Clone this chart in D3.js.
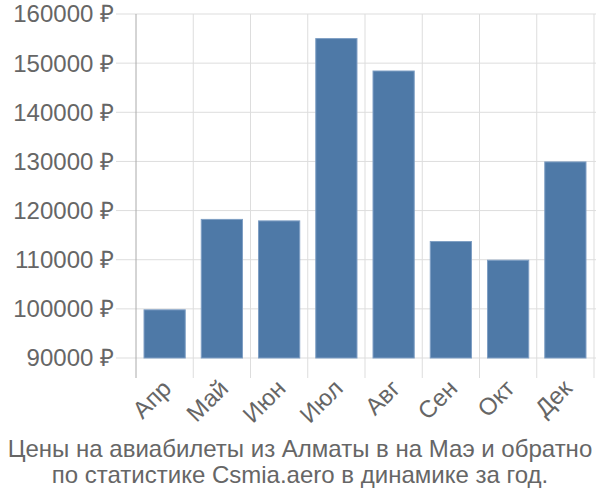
<!DOCTYPE html>
<html><head><meta charset="utf-8">
<script src="https://cdn.jsdelivr.net/npm/d3@7/dist/d3.min.js"></script>
<style>body{margin:0;background:#fff}svg{display:block}</style>
</head><body>
<script>
const categories = ["Апр","Май","Июн","Июл","Авг","Сен","Окт","Дек"];
const prices = [99800, 118200, 117900, 155000, 148400, 113700, 109900, 129900];
const yTicks = [90000,100000,110000,120000,130000,140000,150000,160000];
const titleLines = ["Цены на авиабилеты из Алматы в на Маэ и обратно","по статистике Csmia.aero в динамике за год."];

const W=600,H=500, mLeft=136, mRight=594, mTop=14, mBottom=358;
const svg=d3.select("body").append("svg").attr("width",W).attr("height",H)
  .style("font-family","'Liberation Sans', Arial, sans-serif");
const x=d3.scaleBand().domain(categories).range([mLeft,mRight]).paddingInner(0.28).paddingOuter(0.14);
const xg=d3.scaleBand().domain(categories).range([mLeft,mRight]);
const y=d3.scaleLinear().domain([90000,160000]).range([mBottom,mTop]);

svg.append("g").selectAll("line").data(yTicks).join("line")
  .attr("x1",116).attr("x2",596).attr("y1",d=>y(d)).attr("y2",d=>y(d))
  .attr("stroke","#dddddd").attr("stroke-width",1);
const vx=categories.map(c=>xg(c)+xg.bandwidth());
svg.append("g").selectAll("line").data(vx).join("line")
  .attr("x1",d=>d).attr("x2",d=>d).attr("y1",mTop).attr("y2",378)
  .attr("stroke","#dddddd").attr("stroke-width",1);
svg.append("line").attr("x1",mLeft).attr("x2",mLeft).attr("y1",mTop).attr("y2",378)
  .attr("stroke","#aaaaaa").attr("stroke-width",1);

svg.append("g").selectAll("rect").data(prices).join("rect")
  .attr("x",(d,i)=>x(categories[i])).attr("width",x.bandwidth())
  .attr("y",d=>y(d)).attr("height",d=>y(90000)-y(d))
  .attr("fill","#4e79a7").attr("stroke","#7f9fc4").attr("stroke-width",1);

svg.append("g").selectAll("text").data(yTicks).join("text")
  .attr("x",114).attr("y",d=>y(d)).attr("dy","0.35em").attr("text-anchor","end")
  .attr("font-size",24).attr("fill","#666666").text(d=>d+" ₽");

svg.append("g").selectAll("text").data(categories).join("text")
  .attr("transform",c=>`translate(${xg(c)+xg.bandwidth()/2+2},${384}) rotate(-45)`)
  .attr("text-anchor","end").attr("dy","0.35em")
  .attr("font-size",24).attr("fill","#666666").text(c=>c);

svg.append("g").selectAll("text").data(titleLines).join("text")
  .attr("x",300).attr("y",(d,i)=>457+i*26).attr("text-anchor","middle")
  .attr("font-size",24).attr("fill","#666666").text(d=>d);
</script>
</body></html>
